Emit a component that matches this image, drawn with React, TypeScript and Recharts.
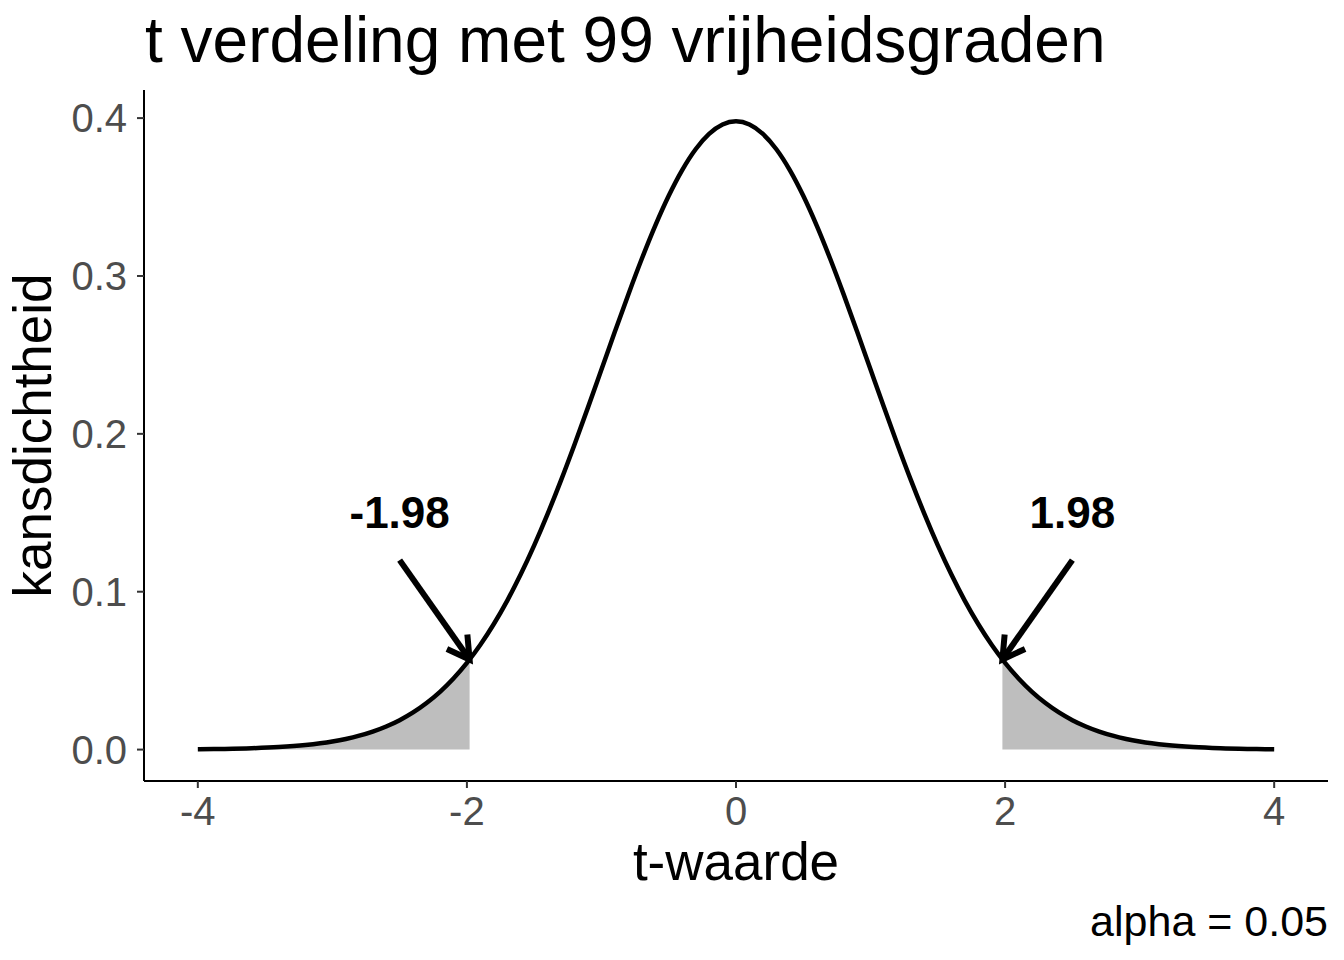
import React from 'react';
import { ComposedChart, Line, Area, XAxis, YAxis, ReferenceLine, ReferenceDot } from 'recharts';

// t values (x grid) of the density curve
const tGrid = [
  -4.0, -3.8, -3.6, -3.4, -3.2, -3.0, -2.9, -2.8, -2.7, -2.6, -2.5, -2.4, -2.3, -2.2, -2.1, -2.0,
  -1.9, -1.8, -1.7, -1.6, -1.5, -1.4, -1.3, -1.2, -1.1, -1.0, -0.9, -0.8, -0.7, -0.6, -0.5, -0.4,
  -0.3, -0.2, -0.1, 0.0, 0.1, 0.2, 0.3, 0.4, 0.5, 0.6, 0.7, 0.8, 0.9, 1.0, 1.1, 1.2, 1.3, 1.4,
  1.5, 1.6, 1.7, 1.8, 1.9, 2.0, 2.1, 2.2, 2.3, 2.4, 2.5, 2.6, 2.7, 2.8, 2.9, 3.0, 3.2, 3.4, 3.6,
  3.8, 4.0,
];
// density values
const density = [
  0.00022, 0.00044, 0.00085, 0.00159, 0.0029, 0.00513, 0.00675, 0.00881, 0.0114, 0.01464, 0.01864,
  0.02354, 0.02948, 0.03658, 0.04503, 0.05491, 0.0664, 0.07955, 0.0944, 0.11102, 0.12936, 0.14932,
  0.1707, 0.19329, 0.21677, 0.24074, 0.26477, 0.28833, 0.31088, 0.33188, 0.35078, 0.36706, 0.38026,
  0.38997, 0.39593, 0.39793, 0.39593, 0.38997, 0.38026, 0.36706, 0.35078, 0.33188, 0.31088, 0.28833,
  0.26477, 0.24074, 0.21677, 0.19329, 0.1707, 0.14932, 0.12936, 0.11102, 0.0944, 0.07955, 0.0664,
  0.05491, 0.04503, 0.03658, 0.02948, 0.02354, 0.01864, 0.01464, 0.0114, 0.00881, 0.00675, 0.00513,
  0.0029, 0.00159, 0.00085, 0.00044, 0.00022,
];
// shaded left tail
const leftTailT = [-4.0, -3.8, -3.6, -3.4, -3.2, -3.0, -2.9, -2.8, -2.7, -2.6, -2.5, -2.4, -2.3, -2.2, -2.1, -2.0, -1.98];
const leftTailD = [0.00022, 0.00044, 0.00085, 0.00159, 0.0029, 0.00513, 0.00675, 0.00881, 0.0114, 0.01464, 0.01864, 0.02354, 0.02948, 0.03658, 0.04503, 0.05491, 0.05708];
// shaded right tail
const rightTailT = [1.98, 2.0, 2.1, 2.2, 2.3, 2.4, 2.5, 2.6, 2.7, 2.8, 2.9, 3.0, 3.2, 3.4, 3.6, 3.8, 4.0];
const rightTailD = [0.05708, 0.05491, 0.04503, 0.03658, 0.02948, 0.02354, 0.01864, 0.01464, 0.0114, 0.00881, 0.00675, 0.00513, 0.0029, 0.00159, 0.00085, 0.00044, 0.00022];

// annotations
const critT = [-1.98, 1.98];
const critD = 0.05708;
const critLabels = ['-1.98', '1.98'];
const arrowStartT = [-2.5, 2.5];
const arrowStartY = 0.12;
const labelY = 0.15;

const xTicks = [-4, -2, 0, 2, 4];
const yTicks = [0, 0.1, 0.2, 0.3, 0.4];

const titleText = 't verdeling met 99 vrijheidsgraden';
const xTitle = 't-waarde';
const yTitle = 'kansdichtheid';
const caption = 'alpha = 0.05';

const FONT = '"Liberation Sans", Arial, Helvetica, sans-serif';

const curveData = tGrid.map((t, i) => ({ t, d: density[i] }));
const leftData = leftTailT.map((t, i) => ({ t, d: leftTailD[i] }));
const rightData = rightTailT.map((t, i) => ({ t, d: rightTailD[i] }));

const ArrowShape = (p: any) => {
  const { x1, y1, x2, y2 } = p;
  const ang = Math.atan2(y2 - y1, x2 - x1);
  const L = 25;
  const a = Math.PI / 6;
  const hx1 = x2 - L * Math.cos(ang - a);
  const hy1 = y2 - L * Math.sin(ang - a);
  const hx2 = x2 - L * Math.cos(ang + a);
  const hy2 = y2 - L * Math.sin(ang + a);
  return (
    <g>
      <path d={`M${x1},${y1}L${x2},${y2}`} stroke="#000" strokeWidth={6} fill="none" />
      <path d={`M${hx1},${hy1}L${x2},${y2}L${hx2},${hy2}`} stroke="#000" strokeWidth={6} fill="none" strokeLinejoin="miter" />
    </g>
  );
};

const makeLabel = (txt: string) => (p: any) => (
  <text x={p.cx} y={p.cy} dy="0.35em" textAnchor="middle" fontSize={44} fontWeight={700} fontFamily={FONT} fill="#000">
    {txt}
  </text>
);

export default function App() {
  return (
    <div style={{ position: 'absolute', left: 0, top: 0, width: 1344, height: 960, background: '#fff' }}>
      <ComposedChart width={1344} height={960} margin={{ top: 90, right: 16, left: 0, bottom: 0 }}>
        <XAxis
          type="number"
          dataKey="t"
          domain={[-4.4, 4.4]}
          allowDataOverflow
          ticks={xTicks}
          height={179}
          tickSize={7}
          tickMargin={9}
          tick={{ fontSize: 40, fill: '#4D4D4D', fontFamily: FONT }}
          tickLine={{ stroke: '#333333', strokeWidth: 2 }}
          axisLine={{ stroke: '#000', strokeWidth: 2 }}
          label={{
            content: (props: any) => {
              const vb = props.viewBox;
              return (
                <text x={vb.x + vb.width / 2} y={vb.y + 99} textAnchor="middle" fontSize={53} fontFamily={FONT} fill="#000">
                  {xTitle}
                </text>
              );
            },
          }}
        />
        <YAxis
          type="number"
          domain={[-0.0199, 0.4178]}
          allowDataOverflow
          ticks={yTicks}
          tickFormatter={(v: number) => v.toFixed(1)}
          width={144}
          tickSize={7}
          tickMargin={10}
          tick={{ fontSize: 40, fill: '#4D4D4D', fontFamily: FONT }}
          tickLine={{ stroke: '#333333', strokeWidth: 2 }}
          axisLine={{ stroke: '#000', strokeWidth: 2 }}
          label={{
            content: (props: any) => {
              const vb = props.viewBox;
              const cy = vb.y + vb.height / 2;
              return (
                <text x={51} y={cy} transform={`rotate(-90, 51, ${cy})`} textAnchor="middle" fontSize={53} fontFamily={FONT} fill="#000">
                  {yTitle}
                </text>
              );
            },
          }}
        />
        <Area data={leftData} dataKey="d" type="monotone" fill="#BEBEBE" fillOpacity={1} stroke="none" baseValue={0} isAnimationActive={false} />
        <Area data={rightData} dataKey="d" type="monotone" fill="#BEBEBE" fillOpacity={1} stroke="none" baseValue={0} isAnimationActive={false} />
        <Line data={curveData} dataKey="d" type="monotone" stroke="#000" strokeWidth={4.5} dot={false} isAnimationActive={false} />
        {critT.map((ct, i) => (
          <ReferenceLine
            key={`arr${i}`}
            segment={[{ x: arrowStartT[i], y: arrowStartY }, { x: ct, y: critD }]}
            shape={ArrowShape}
            ifOverflow="visible"
          />
        ))}
        {critT.map((ct, i) => (
          <ReferenceDot key={`lab${i}`} x={arrowStartT[i]} y={labelY} r={0} shape={makeLabel(critLabels[i])} ifOverflow="visible" />
        ))}
        <text x={145} y={62} fontSize={64} fontFamily={FONT} fill="#000">
          {titleText}
        </text>
        <text x={1328} y={936} textAnchor="end" fontSize={43} fontFamily={FONT} fill="#000">
          {caption}
        </text>
      </ComposedChart>
    </div>
  );
}
